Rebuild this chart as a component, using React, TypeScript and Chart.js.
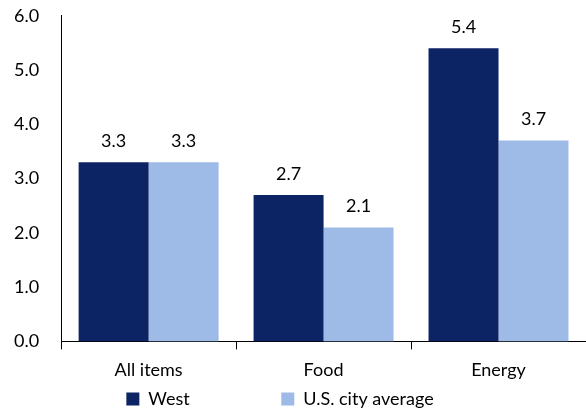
import React, { useEffect, useRef } from "react";
import { Chart, registerables } from "chart.js";
Chart.register(...registerables);

const categories = ["All items", "Food", "Energy"];
const westValues = [3.3, 2.7, 5.4];
const usValues = [3.3, 2.1, 3.7];

const FONT = "Lato, 'Open Sans', sans-serif";

const labelPlugin = {
  id: "valueLabels",
  afterLayout(chart: any) {
    if (chart.legend) {
      chart.legend.left -= 13;
      chart.legend.right -= 13;
      chart.legend.top -= 5;
      chart.legend.bottom -= 5;
    }
  },
  afterDatasetsDraw(chart: any) {
    const ctx = chart.ctx;
    ctx.save();
    ctx.font = `18px ${FONT}`;
    ctx.fillStyle = "#000";
    ctx.textAlign = "center";
    ctx.textBaseline = "bottom";
    chart.data.datasets.forEach((ds: any, i: number) => {
      chart.getDatasetMeta(i).data.forEach((bar: any, j: number) => {
        ctx.fillText(ds.data[j].toFixed(1), bar.x, bar.y - 12);
      });
    });
    ctx.restore();
  },
};

export default function App() {
  const ref = useRef<HTMLCanvasElement>(null);
  useEffect(() => {
    document.body.style.margin = "0";
    const chart = new Chart(ref.current!, {
      type: "bar",
      data: {
        labels: categories,
        datasets: [
          { label: "West", data: westValues, backgroundColor: "#0c2364" },
          { label: "U.S. city average", data: usValues, backgroundColor: "#9dbbe6" },
        ],
      },
      options: {
        animation: false,
        responsive: false,
        layout: { padding: { top: 4, right: 0, left: 0, bottom: 0 } },
        datasets: { bar: { categoryPercentage: 0.8, barPercentage: 1 } },
        plugins: {
          legend: {
            position: "bottom",
            labels: {
              font: { family: FONT, size: 18 },
              color: "#000",
              boxWidth: 13,
              boxHeight: 13,
              padding: 4,
              generateLabels: (chart: any) => {
                const items = Chart.defaults.plugins.legend.labels.generateLabels(chart);
                items[0].text = items[0].text + " ".repeat(19);
                return items;
              },
            },
          },
          tooltip: { enabled: false },
        },
        scales: {
          x: {
            grid: { offset: true, drawOnChartArea: false, tickLength: 8, color: "#000" },
            border: { color: "#000" },
            ticks: { font: { family: FONT, size: 18 }, color: "#000", padding: 10 },
          },
          y: {
            min: 0,
            max: 6,
            grid: { display: false },
            border: { color: "#000" },
            ticks: { stepSize: 1, font: { family: FONT, size: 18 }, color: "#000", callback: (v: any) => Number(v).toFixed(1), padding: 14 },
          },
        },
      },
      plugins: [labelPlugin],
    });
    return () => chart.destroy();
  }, []);
  return <canvas ref={ref} width={586} height={432} style={{ display: "block", marginTop: -9 }} />;
}
